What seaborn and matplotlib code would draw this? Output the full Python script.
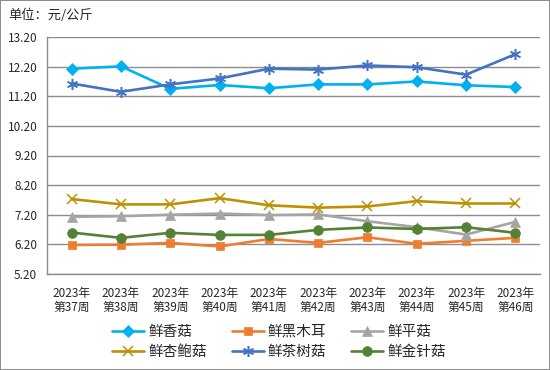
import numpy as np
import pandas as pd
import seaborn as sns
import matplotlib.pyplot as plt
from matplotlib.ticker import FixedLocator

weeks = ['2023年\n第37周', '2023年\n第38周', '2023年\n第39周', '2023年\n第40周', '2023年\n第41周',
         '2023年\n第42周', '2023年\n第43周', '2023年\n第44周', '2023年\n第45周', '2023年\n第46周']

xianggu = [12.13, 12.21, 11.45, 11.58, 11.47, 11.60, 11.60, 11.70, 11.57, 11.51]
heimuer = [6.18, 6.19, 6.25, 6.13, 6.38, 6.25, 6.44, 6.22, 6.32, 6.42]
pinggu = [7.13, 7.15, 7.20, 7.24, 7.19, 7.21, 6.98, 6.78, 6.53, 6.96]
xingbaogu = [7.73, 7.55, 7.55, 7.76, 7.52, 7.44, 7.48, 7.66, 7.58, 7.58]
chashugu = [11.63, 11.35, 11.60, 11.80, 12.13, 12.10, 12.24, 12.18, 11.93, 12.62]
jinzhengu = [6.60, 6.42, 6.59, 6.52, 6.52, 6.69, 6.77, 6.72, 6.78, 6.59]

series = [
    ('鲜香菇', xianggu, '#00B0F0', 'D', 6),
    ('鲜黑木耳', heimuer, '#ED7D31', 's', 5.5),
    ('鲜平菇', pinggu, '#A5A5A5', '^', 7),
    ('鲜杏鲍菇', xingbaogu, '#BF9000', 'x', 7),
    ('鲜茶树菇', chashugu, '#4472C4', (6, 2, 0), 8),
    ('鲜金针菇', jinzhengu, '#548235', 'o', 7),
]

sns.set_style('white')
plt.rcParams['font.family'] = ['Noto Sans CJK SC', 'DejaVu Sans']

fig = plt.figure(figsize=(5.5, 3.7), dpi=100, linewidth=1.2, edgecolor='#8c8c8c')
ax = fig.add_axes([47 / 550, 1 - 274 / 370, (540 - 47) / 550, (274 - 37) / 370])

pos = np.arange(len(weeks))
for name, vals, color, marker, ms in series:
    sns.lineplot(x=pos, y=vals, ax=ax, color=color, marker=marker, markersize=ms,
                 markeredgecolor=color, markeredgewidth=1.1 if marker in ('x', (6, 2, 0)) else 0.5,
                 linewidth=1.9, label=name)

ax.set_ylim(5.2, 13.2)
ax.set_yticks(np.arange(5.2, 13.21, 1.0))
ax.set_yticklabels([f'{v:.2f}' for v in np.arange(5.2, 13.21, 1.0)])
ax.set_xlim(-0.5, len(weeks) - 0.5)
ax.set_xticks(pos)
ax.set_xticklabels(weeks)
ax.xaxis.set_minor_locator(FixedLocator(np.arange(-0.5, len(weeks), 1.0)))
ax.tick_params(axis='x', which='major', length=0, labelsize=8.5, pad=9)
ax.tick_params(axis='x', which='minor', length=4, color='#8c8c8c', width=1, direction='out')
ax.tick_params(axis='y', length=0, labelsize=8.5, pad=7)
for lab in ax.get_xticklabels():
    lab.set_linespacing(1.15)

ax.grid(axis='y', color='#8c8c8c', linewidth=1)
ax.set_axisbelow(True)
for side in ['top', 'right']:
    ax.spines[side].set_visible(False)
for side in ['left', 'bottom']:
    ax.spines[side].set_color('#8c8c8c')
    ax.spines[side].set_linewidth(1)
ax.set_xlabel('')
ax.set_ylabel('')

handles, labels = ax.get_legend_handles_labels()
order = [0, 3, 1, 4, 2, 5]
ax.legend([handles[i] for i in order], [labels[i] for i in order], ncol=3,
          loc='center', bbox_to_anchor=(279 / 550, 1 - 342 / 370), bbox_transform=fig.transFigure,
          frameon=False, fontsize=10.5, handlelength=2.2, columnspacing=1.7, labelspacing=0.45,
          handletextpad=0.3)

fig.text(8 / 550, 1 - 15 / 370, '单位：元/公斤', fontsize=9.5, va='center', ha='left')

fig.savefig('out.png', dpi=100, edgecolor=fig.get_edgecolor())
